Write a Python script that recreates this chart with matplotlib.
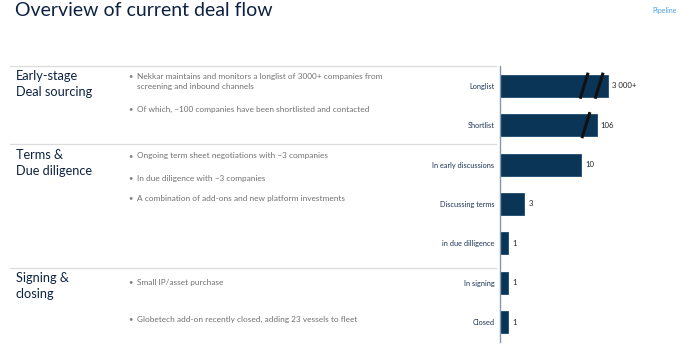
import numpy as np
import matplotlib
matplotlib.use("Agg")
import matplotlib.pyplot as plt
import matplotlib.transforms as mtransforms

plt.rcParams['font.family'] = ['Lato', 'DejaVu Sans']

W, H = 690, 344

# pipeline stages, top to bottom
stages = ['Longlist', 'Shortlist', 'In early discussions', 'Discussing terms',
          'in due dilligence', 'In signing', 'Closed']
counts = [3000, 106, 10, 3, 1, 1, 1]
count_labels = ['3 000+', '106', '10', '3', '1', '1', '1']
# bars that are cut short with break marks (pixel offsets from bar end)
breaks = {0: [-24, -9], 1: [-11]}

sections = ['Early-stage\nDeal sourcing', 'Terms &\nDue diligence', 'Signing &\nclosing']
section_y = [77, 156, 279]
# (text, y in px, starts a new bullet)
bullets = [
    ('Nekkar maintains and monitors a longlist of 3000+ companies from', 76, True),
    ('screening and inbound channels', 87, False),
    ('Of which, ~100 companies have been shortlisted and contacted', 109, True),
    ('Ongoing term sheet negotiations with ~3 companies', 156, True),
    ('In due diligence with ~3 companies', 178, True),
    ('A combination of add-ons and new platform investments', 198, True),
    ('Small IP/asset purchase', 282, True),
    ('Globetech add-on recently closed, adding 23 vessels to fleet', 319, True),
]
separators_y = [66, 144, 268]

NAVY = '#0b3556'
TXT = '#1c3557'


def fx(px):
    return px / W


def fy(py):
    return 1 - py / H


fig = plt.figure(figsize=(W / 100, H / 100), dpi=100)

fig.text(fx(15), fy(10), 'Overview of current deal flow', fontsize=14,
         color='#0d2240', va='center', ha='left')
fig.text(fx(652), fy(10), 'Pipeline', fontsize=5, color='#4aa3e8',
         va='center', ha='left')

for y in separators_y:
    fig.add_artist(plt.Line2D([fx(10), fx(496)], [fy(y), fy(y)],
                              color='#dcdcdc', lw=0.9))

for name, y in zip(sections, section_y):
    fig.text(fx(16), fy(y - 7), name, fontsize=9.2, color='#0d2240',
             va='top', ha='left', linespacing=1.4)

for line, y, new in bullets:
    if new:
        fig.text(fx(128), fy(y), '\u2022', fontsize=5.5, color='#808080',
                 va='center', ha='left')
    fig.text(fx(137), fy(y), line, fontsize=5.95, color='#707070',
             va='center', ha='left')


# bar axis: linear up to 11, compressed beyond so large counts fit
def fwd(x):
    x = np.asarray(x, dtype=float)
    return np.where(x <= 11, x, 11 + 0.95 * np.log10(np.maximum(x, 1e-9) / 11))


def inv(x):
    x = np.asarray(x, dtype=float)
    return np.where(x <= 11, x, 11 * 10 ** ((x - 11) / 0.95))


ax = fig.add_axes([fx(500), fy(342), fx(690) - fx(500), fy(66) - fy(342)])
ax.set_xscale('function', functions=(fwd, inv))
ypos = np.arange(len(stages))
ax.barh(ypos, counts, height=0.56, color=NAVY, edgecolor='#1d4a70', lw=0.6)
ax.set_xlim(0, inv(23.4))
ax.set_ylim(len(stages) - 0.5, -0.5)
ax.set_xticks([])
ax.set_yticks(ypos)
ax.set_yticklabels(stages, fontsize=5.3, color=TXT)
ax.tick_params(axis='y', length=0, pad=4)
for s in ['top', 'right', 'bottom']:
    ax.spines[s].set_visible(False)
ax.spines['left'].set_color('#8797ab')
ax.spines['left'].set_linewidth(1)
ax.patch.set_alpha(0)

for i, (v, lab) in enumerate(zip(counts, count_labels)):
    tr = mtransforms.offset_copy(ax.transData, fig=fig, x=4, y=0, units='dots')
    ax.text(v, i, lab, transform=tr, fontsize=5.6, color='#222222',
            va='center', ha='left')

for i, offs in breaks.items():
    v = counts[i]
    for o in offs:
        t0 = mtransforms.offset_copy(ax.transData, fig=fig, x=o - 4, y=0, units='dots')
        t1 = mtransforms.offset_copy(ax.transData, fig=fig, x=o + 4, y=0, units='dots')
        p0 = t0.transform((v, i + 0.33))
        p1 = t1.transform((v, i - 0.33))
        fig.add_artist(plt.Line2D([p0[0] / W, p1[0] / W], [p0[1] / H, p1[1] / H],
                                  color='#111111', lw=2.2, solid_capstyle='butt'))

fig.savefig('out.png', dpi=100)
